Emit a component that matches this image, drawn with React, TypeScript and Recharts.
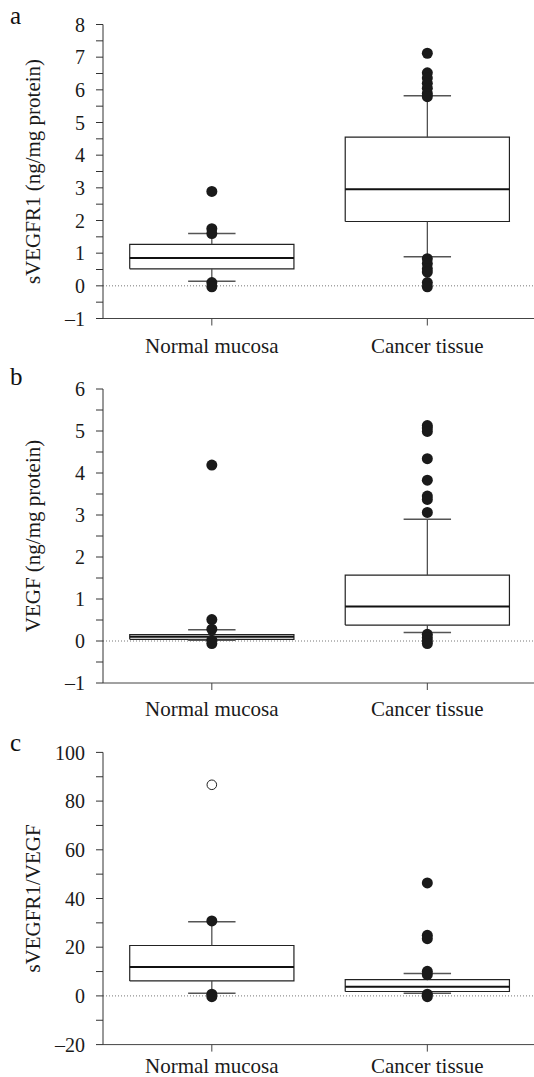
import React from "react";
import {
  ComposedChart,
  Line,
  Scatter,
  XAxis,
  YAxis,
  ReferenceLine,
} from "recharts";

// categories on the x axis
const groups = ["Normal mucosa", "Cancer tissue"];
const groupX = [0.5, 1.5];

// panel a: sVEGFR1 (ng/mg protein)
const aQ1 = [0.52, 1.97];
const aMedian = [0.855, 2.96];
const aQ3 = [1.27, 4.55];
const aLow = [0.14, 0.89];
const aHigh = [1.6, 5.82];
const aOutNormal = [2.89, 1.75, 1.6, 0.1, -0.03];
const aOutCancer = [7.12, 6.52, 6.36, 6.2, 6.05, 5.89, 5.79, 0.83, 0.68, 0.52, 0.42, 0.1, -0.03];

// panel b: VEGF (ng/mg protein)
const bQ1 = [0.04, 0.38];
const bMedian = [0.1, 0.82];
const bQ3 = [0.15, 1.57];
const bLow = [0.02, 0.2];
const bHigh = [0.27, 2.9];
const bOutNormal = [4.19, 0.51, 0.28, 0.02, -0.06];
const bOutCancer = [5.13, 5.07, 4.99, 4.34, 3.83, 3.45, 3.37, 3.06, 0.16, 0.08, 0, -0.06];

// panel c: sVEGFR1/VEGF
const cQ1 = [6.15, 1.8];
const cMedian = [11.9, 3.8];
const cQ3 = [20.7, 6.7];
const cLow = [1.1, 1.1];
const cHigh = [30.5, 9.2];
const cOutNormal = [30.8, 0.7, -0.3];
const cOutCancer = [46.4, 24.9, 23.5, 10.1, 8.7, 0.7, -0.3];
const cOpenNormal = [86.7];

const BOX_HALF = 0.381;
const CAP_HALF = 0.11;
const FONT = "Liberation Serif, Times New Roman, serif";

const fmtNum = (v: number) => (v < 0 ? "\u2013" + Math.abs(v) : String(v));

const buildLines = (q1: number[], med: number[], q3: number[], lo: number[], hi: number[]) => {
  const out: any[] = [];
  groupX.forEach((x, i) => {
    out.push({
      key: "box" + i,
      w: 1.2,
      c: "#222",
      data: [
        { x: x - BOX_HALF, y: q1[i] },
        { x: x + BOX_HALF, y: q1[i] },
        { x: x + BOX_HALF, y: q3[i] },
        { x: x - BOX_HALF, y: q3[i] },
        { x: x - BOX_HALF, y: q1[i] },
      ],
    });
    out.push({ key: "med" + i, w: 2, c: "#111", data: [{ x: x - BOX_HALF, y: med[i] }, { x: x + BOX_HALF, y: med[i] }] });
    out.push({ key: "wu" + i, w: 1.2, c: "#444", data: [{ x, y: q3[i] }, { x, y: hi[i] }] });
    out.push({ key: "wl" + i, w: 1.2, c: "#444", data: [{ x, y: q1[i] }, { x, y: lo[i] }] });
    out.push({ key: "cu" + i, w: 1.5, c: "#555", data: [{ x: x - CAP_HALF, y: hi[i] }, { x: x + CAP_HALF, y: hi[i] }] });
    out.push({ key: "cl" + i, w: 1.5, c: "#555", data: [{ x: x - CAP_HALF, y: lo[i] }, { x: x + CAP_HALF, y: lo[i] }] });
  });
  return out;
};

const toPoints = (vals: number[], x: number) => vals.map((y) => ({ x, y }));

const Dot = (props: any) => <circle cx={props.cx} cy={props.cy} r={5.5} fill="#1a1a1a" />;
const OpenDot = (props: any) => (
  <circle cx={props.cx} cy={props.cy} r={4.8} fill="#fff" stroke="#222" strokeWidth={1} />
);

const CatTick = (props: any) => {
  const idx = groupX.indexOf(props.payload.value);
  return (
    <text x={props.x} y={props.y} dy="0.71em" textAnchor="middle" fontSize={21} fontFamily={FONT} fill="#1a1a1a">
      {groups[idx] || ""}
    </text>
  );
};

const makeValTick = (labelStep: number) => (props: any) => {
  const v = props.payload.value;
  const show = Math.abs(v / labelStep - Math.round(v / labelStep)) < 1e-9;
  if (!show) return <g />;
  return (
    <text x={props.x} y={props.y} dy="0.355em" textAnchor="end" fontSize={20} fontFamily={FONT} fill="#1a1a1a">
      {fmtNum(v)}
    </text>
  );
};

const Panel = ({ top, letter, letterTop, yLabel, domain, ticks, labelStep, lines, filled, open, height, plotTop, plotBottom, catMargin }: any) => {
  const labelY = (plotTop + plotBottom) / 2;
  return (
    <div style={{ position: "absolute", left: 0, top, width: 534, height }}>
      <div
        style={{
          position: "absolute",
          left: 10,
          top: letterTop,
          fontFamily: FONT,
          fontSize: 25,
          lineHeight: 1,
          color: "#111",
        }}
      >
        {letter}
      </div>
      <ComposedChart
        width={534}
        height={height}
        margin={{ top: plotTop, right: 0, bottom: 0, left: 0 }}
      >
        <XAxis
          type="number"
          dataKey="x"
          domain={[-0.005, 1.995]}
          ticks={groupX}
          interval={0}
          allowDataOverflow
          height={height - plotBottom}
          tickSize={7}
          tickMargin={catMargin}
          stroke="#444"
          tick={<CatTick />}
        />
        <YAxis
          type="number"
          dataKey="y"
          domain={domain}
          ticks={ticks}
          interval={0}
          allowDataOverflow
          width={103}
          tickSize={7}
          tickMargin={11}
          stroke="#333"
          tick={makeValTick(labelStep)}
          label={{
            content: () => (
              <text
                x={33}
                y={labelY}
                transform={`rotate(-90, 33, ${labelY})`}
                textAnchor="middle"
                dominantBaseline="central"
                fontSize={21}
                fontFamily={FONT}
                fill="#1a1a1a"
              >
                {yLabel}
              </text>
            ),
          }}
        />
        <ReferenceLine y={0} stroke="#777" strokeDasharray="1 2" strokeWidth={1} />
        {lines.map((l: any) => (
          <Line
            key={l.key}
            data={l.data}
            dataKey="y"
            type="linear"
            stroke={l.c}
            strokeWidth={l.w}
            dot={false}
            activeDot={false}
            isAnimationActive={false}
          />
        ))}
        <Scatter data={filled} dataKey="y" shape={Dot} isAnimationActive={false} />
        {open && <Scatter data={open} dataKey="y" shape={OpenDot} isAnimationActive={false} />}
      </ComposedChart>
    </div>
  );
};

const range = (a: number, b: number, s: number) => {
  const r: number[] = [];
  for (let v = a; v <= b + 1e-9; v += s) r.push(Math.round(v * 100) / 100);
  return r;
};

export default function App() {
  return (
    <div style={{ position: "absolute", left: 0, top: 0, width: 534, height: 1077, background: "#fff", overflow: "hidden" }}>
      <Panel
        top={0}
        letter="a"
        letterTop={3}
        yLabel="sVEGFR1 (ng/mg protein)"
        domain={[-1, 8]}
        ticks={range(-1, 8, 0.5)}
        labelStep={1}
        lines={buildLines(aQ1, aMedian, aQ3, aLow, aHigh)}
        filled={[...toPoints(aOutNormal, groupX[0]), ...toPoints(aOutCancer, groupX[1])]}
        height={372}
        plotTop={24.5}
        plotBottom={318.5}
        catMargin={13}
      />
      <Panel
        top={360}
        letter="b"
        letterTop={4}
        yLabel="VEGF (ng/mg protein)"
        domain={[-1, 6]}
        ticks={range(-1, 6, 0.5)}
        labelStep={1}
        lines={buildLines(bQ1, bMedian, bQ3, bLow, bHigh)}
        filled={[...toPoints(bOutNormal, groupX[0]), ...toPoints(bOutCancer, groupX[1])]}
        height={372}
        plotTop={29}
        plotBottom={323}
        catMargin={11}
      />
      <Panel
        top={720}
        letter="c"
        letterTop={10}
        yLabel="sVEGFR1/VEGF"
        domain={[-20, 100]}
        ticks={range(-20, 100, 10)}
        labelStep={20}
        lines={buildLines(cQ1, cMedian, cQ3, cLow, cHigh)}
        filled={[...toPoints(cOutNormal, groupX[0]), ...toPoints(cOutCancer, groupX[1])]}
        open={toPoints(cOpenNormal, groupX[0])}
        height={357}
        plotTop={32.4}
        plotBottom={324.6}
        catMargin={6}
      />
    </div>
  );
}
